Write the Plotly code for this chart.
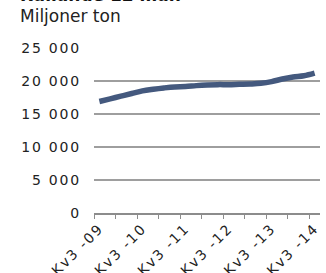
import plotly.graph_objects as go

quarters = list(range(21))
values = [16900, 17300, 17700, 18100, 18500, 18750, 18950, 19100, 19150, 19300,
          19400, 19450, 19450, 19500, 19550, 19650, 19900, 20300, 20600, 20800, 21200]
x_tick_pos = [0, 4, 8, 12, 16, 20]
x_tick_labels = ["Kv3 -09", "Kv3 -10", "Kv3 -11", "Kv3 -12", "Kv3 -13", "Kv3 -14"]
y_tick_vals = [0, 5000, 10000, 15000, 20000, 25000]
y_tick_labels = ["0", "5 000", "10 000", "15 000", "20 000", "25 000"]

font = "DejaVu Sans"
sp = '<span style="letter-spacing:1.8px">{}</span>'

fig = go.Figure()
fig.add_trace(go.Scatter(x=quarters, y=values, mode="lines",
                         line=dict(color="#44597E", width=5.5, shape="spline"),
                         hoverinfo="skip"))

fig.update_layout(
    width=326, height=273,
    margin=dict(l=94, r=6, t=48, b=60),
    paper_bgcolor="white", plot_bgcolor="white",
    showlegend=False,
    font=dict(family=font, color="#222222"),
    xaxis=dict(range=[-0.5, 20.5], tickvals=x_tick_pos,
               ticktext=[sp.format(t) for t in x_tick_labels],
               tickangle=-45, tickfont=dict(size=14, family=font, color="#222"),
               ticks="", showgrid=False, zeroline=False, automargin=False,
               showline=True, linecolor="#8c8c8c", linewidth=1.5, fixedrange=True,
               minor=dict(tick0=-0.5, dtick=2, ticks="outside", ticklen=4,
                          tickcolor="#8c8c8c", tickwidth=1.2, showgrid=False)),
    yaxis=dict(range=[0, 25000], tickvals=y_tick_vals,
               ticktext=[sp.format(t) for t in y_tick_labels],
               tickfont=dict(size=14, family=font, color="#222"),
               showgrid=True, gridcolor="#9e9e9e", gridwidth=1.5, automargin=False,
               zeroline=False, ticks="", ticklabelstandoff=12, fixedrange=True),
)

fig.add_annotation(text="Miljoner ton", xref="paper", yref="paper",
                   x=-76/226, y=1 + 20/165, xanchor="left", yanchor="bottom",
                   showarrow=False, font=dict(size=17, family=font, color="#222"))
fig.add_annotation(text="<b>Rullande 12 mån</b>", xref="paper", yref="paper",
                   x=-76/226, y=1 + 41/165, xanchor="left", yanchor="bottom",
                   showarrow=False, font=dict(size=17, family=font, color="#111"))

fig.write_html("out.html", config={"displayModeBar": False},
               post_script="document.body.style.margin='0';")
